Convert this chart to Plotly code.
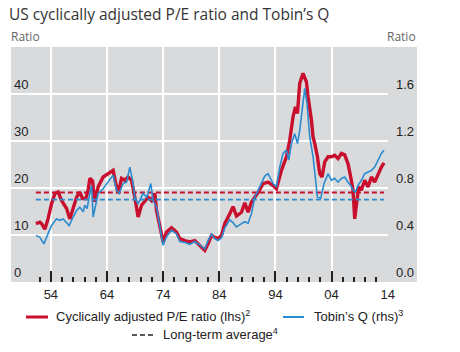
import plotly.graph_objects as go

# ---- data ----
pe_years = [1951.33, 1952.04, 1952.40, 1952.93, 1953.52, 1954.12, 1954.71, 1955.30, 1955.90, 1956.80,
            1957.38, 1957.97, 1958.58, 1959.16, 1959.64, 1960.23, 1960.64, 1960.94, 1961.42, 1961.83,
            1962.42, 1963.31, 1964.20, 1965.09, 1965.57, 1965.98, 1966.59, 1967.17, 1967.76, 1968.37,
            1968.95, 1969.54, 1970.15, 1970.73, 1971.32, 1971.93, 1972.52, 1972.82, 1973.41, 1973.99,
            1974.60, 1975.49, 1976.38, 1976.97, 1977.86, 1978.75, 1979.64, 1980.22, 1980.83, 1981.42,
            1982.00, 1982.61, 1983.20, 1983.78, 1984.39, 1984.98, 1985.87, 1986.45, 1987.06, 1987.95,
            1988.54, 1989.13, 1989.73, 1990.32, 1990.91, 1991.80, 1992.69, 1993.58, 1994.18, 1995.07,
            1995.96, 1996.55, 1997.14, 1997.56, 1997.92, 1998.33, 1998.92, 1999.52, 1999.81, 2000.41,
            2000.70, 2001.00, 2001.48, 2001.89, 2002.30, 2002.78, 2003.37, 2003.97, 2004.56, 2005.15,
            2005.75, 2006.34, 2006.93, 2007.41, 2007.82, 2008.12, 2008.43, 2008.83, 2009.31, 2009.90,
            2010.49, 2011.10, 2011.68, 2012.27, 2012.87, 2013.34]
pe_ratio = [12.4, 12.7, 12.3, 11.2, 13.5, 16.6, 18.8, 19.1, 17.3, 15.6,
            13.4, 15.9, 18.0, 19.1, 17.7, 17.7, 19.5, 22.0, 21.5, 17.0,
            20.2, 22.3, 23.0, 23.7, 20.9, 18.8, 22.0, 21.6, 22.3, 21.6,
            18.0, 13.8, 16.3, 17.3, 18.0, 17.3, 18.8, 15.2, 11.7, 8.5,
            10.6, 11.5, 10.6, 9.2, 8.8, 8.5, 8.8, 8.1, 7.4, 6.7,
            8.1, 9.9, 9.5, 9.2, 9.9, 12.4, 14.5, 16.0, 14.0, 14.8,
            16.8, 14.8, 17.0, 18.0, 19.0, 20.9, 21.2, 20.5, 19.8, 23.7,
            26.6, 30.1, 35.1, 37.2, 35.8, 42.2, 44.3, 42.5, 39.3, 34.4,
            30.8, 29.4, 26.6, 23.0, 22.3, 25.5, 26.6, 26.6, 26.9, 26.2,
            27.3, 27.0, 25.1, 22.3, 19.5, 13.4, 15.9, 20.2, 19.5, 21.6,
            20.2, 22.3, 21.2, 23.0, 24.4, 25.3]

q_years = [1951.33, 1952.04, 1952.75, 1953.52, 1954.12, 1955.01, 1955.60, 1956.19, 1956.80, 1957.26,
           1957.97, 1958.58, 1959.16, 1959.75, 1960.05, 1960.46, 1960.94, 1961.25, 1961.53, 1962.42,
           1963.31, 1964.20, 1965.09, 1965.70, 1966.16, 1966.87, 1967.48, 1968.06, 1968.55, 1968.95,
           1969.54, 1970.43, 1971.09, 1971.80, 1972.21, 1972.82, 1973.41, 1973.99, 1974.60, 1975.49,
           1976.38, 1976.97, 1977.86, 1978.75, 1979.64, 1980.22, 1980.83, 1981.42, 1982.00, 1982.61,
           1983.20, 1983.78, 1984.39, 1984.98, 1985.87, 1986.45, 1987.06, 1987.95, 1988.54, 1989.13,
           1989.73, 1990.32, 1990.91, 1991.80, 1992.10, 1992.69, 1993.58, 1994.18, 1994.77, 1995.36,
           1995.96, 1996.37, 1996.85, 1997.44, 1997.92, 1998.33, 1998.74, 1999.22, 1999.63, 2000.11,
           2000.70, 2001.12, 2001.48, 2002.07, 2002.66, 2003.37, 2003.97, 2004.56, 2005.15, 2005.75,
           2006.34, 2006.93, 2007.41, 2007.82, 2008.25, 2008.71, 2009.31, 2009.90, 2010.49, 2011.10,
           2011.68, 2012.27, 2012.87, 2013.34]
tobins_q = [0.396, 0.380, 0.324, 0.412, 0.480, 0.536, 0.524, 0.536, 0.508, 0.480,
            0.552, 0.608, 0.636, 0.596, 0.652, 0.624, 0.752, 0.820, 0.552, 0.752,
            0.792, 0.848, 0.908, 0.780, 0.752, 0.836, 0.848, 0.976, 0.864, 0.720,
            0.664, 0.752, 0.720, 0.836, 0.692, 0.636, 0.460, 0.312, 0.384, 0.440,
            0.408, 0.344, 0.336, 0.320, 0.344, 0.328, 0.304, 0.280, 0.352, 0.408,
            0.368, 0.352, 0.376, 0.460, 0.528, 0.504, 0.468, 0.496, 0.512, 0.500,
            0.580, 0.720, 0.780, 0.860, 0.900, 0.920, 0.836, 0.808, 0.976, 1.092,
            1.120, 1.036, 1.176, 1.260, 1.176, 1.288, 1.460, 1.644, 1.516, 1.232,
            1.064, 0.892, 0.720, 0.712, 0.836, 0.920, 0.864, 0.880, 0.848, 0.880,
            0.892, 0.848, 0.820, 0.780, 0.764, 0.820, 0.864, 0.920, 0.936, 0.948,
            0.976, 1.036, 1.092, 1.120]

avg_years = [1951.33, 2013.34]
pe_long_term_avg = 19.0
q_long_term_avg = 0.70

x_tick_vals = [1954, 1964, 1974, 1984, 1994, 2004, 2014]
x_tick_text = ["54", "64", "74", "84", "94", "04", "14"]
x_minor_vals = list(range(1952, 2015, 2))
yl_ticks = [0, 10, 20, 30, 40]
yr_ticks = [0.0, 0.4, 0.8, 1.2, 1.6]
yr_text = ["0.0", "0.4", "0.8", "1.2", "1.6"]

title_text = "US cyclically adjusted P/E ratio and Tobin’s Q"
pe_name = "Cyclically adjusted P/E ratio (lhs)<sup>2</sup>"
q_name = "Tobin’s Q (rhs)<sup>3</sup>"
avg_name = "Long-term average<sup>4</sup>"

RED = "#c8102e"
BLUE = "#2a8bd0"
GREY = "#d9dadc"
TXT = "#222222"
ARIAL = "Liberation Sans, Arial, sans-serif"
SEGOE = "Open Sans, Noto Sans, sans-serif"

# plot area in pixels
L, R, T, B = 11, 388, 47, 282
W, H = 460, 352


def px(xp):
    return (xp - L) / (R - L)


def py(yp):
    return (B - yp) / (B - T)


fig = go.Figure()
fig.add_trace(go.Scatter(x=avg_years, y=[pe_long_term_avg] * 2, mode="lines",
                         line=dict(color=RED, width=2, dash="5px,3px"), showlegend=False, hoverinfo="skip"))
fig.add_trace(go.Scatter(x=avg_years, y=[q_long_term_avg] * 2, mode="lines", yaxis="y2",
                         line=dict(color=BLUE, width=1.6, dash="5px,3px"), showlegend=False, hoverinfo="skip"))
fig.add_trace(go.Scatter(x=q_years, y=tobins_q, mode="lines", yaxis="y2", name=q_name,
                         line=dict(color=BLUE, width=1.6), showlegend=False))
fig.add_trace(go.Scatter(x=pe_years, y=pe_ratio, mode="lines", name=pe_name,
                         line=dict(color=RED, width=3.4), showlegend=False))

fig.update_layout(
    width=W, height=H, autosize=False,
    margin=dict(l=L, r=W - R, t=T, b=H - B, pad=0),
    paper_bgcolor="white", plot_bgcolor=GREY,
    title=dict(text=title_text, x=9 / W, xanchor="left", y=1 - 15 / H, yanchor="middle",
               font=dict(family=SEGOE, size=15.5, color="#333333")),
    xaxis=dict(range=[1946.9, 2014.05], tickmode="array", tickvals=x_tick_vals, ticktext=x_tick_text,
               ticks="inside", ticklen=11, tickwidth=1.5, tickcolor=TXT, ticklabelstandoff=3,
               minor=dict(tickmode="array", tickvals=x_minor_vals, ticks="inside", ticklen=5,
                          tickwidth=1.5, tickcolor=TXT, showgrid=False),
               showgrid=True, gridcolor="white", gridwidth=1.5, zeroline=False, showline=False,
               tickfont=dict(family=ARIAL, size=13, color=TXT)),
    yaxis=dict(range=[0, 49.9], tickmode="array", tickvals=yl_ticks, ticks="",
               ticklabelposition="inside top", showgrid=True, gridcolor="white", gridwidth=1.5,
               zeroline=False, showline=False, tickfont=dict(family=ARIAL, size=13, color=TXT)),
    yaxis2=dict(range=[0, 1.996], overlaying="y", side="right", tickmode="array", tickvals=yr_ticks,
                ticktext=yr_text, ticks="", ticklabelposition="outside top", ticklabelstandoff=7,
                showgrid=False, zeroline=False, showline=False,
                tickfont=dict(family=ARIAL, size=13, color=TXT)),
    shapes=[
        dict(type="rect", xref="paper", yref="paper", x0=1, x1=px(417), y0=0, y1=1,
             fillcolor=GREY, line=dict(width=0), layer="below"),
        dict(type="line", xref="paper", yref="paper", x0=px(26), x1=px(48), y0=py(317), y1=py(317),
             line=dict(color=RED, width=3)),
        dict(type="line", xref="paper", yref="paper", x0=px(283), x1=px(304), y0=py(317), y1=py(317),
             line=dict(color=BLUE, width=2)),
        dict(type="line", xref="paper", yref="paper", x0=px(132), x1=px(156), y0=py(335), y1=py(335),
             line=dict(color=TXT, width=1.5, dash="5px,3px")),
    ],
    annotations=[
        dict(text="Ratio", xref="paper", yref="paper", x=px(9), y=py(37), xanchor="left", yanchor="middle",
             showarrow=False, font=dict(family=SEGOE, size=12, color="#666666")),
        dict(text="Ratio", xref="paper", yref="paper", x=px(418), y=py(37), xanchor="right", yanchor="middle",
             showarrow=False, font=dict(family=SEGOE, size=12, color="#666666")),
        dict(text=pe_name, xref="paper", yref="paper", x=px(54), y=py(316), xanchor="left", yanchor="middle",
             showarrow=False, font=dict(family=ARIAL, size=13, color=TXT)),
        dict(text=q_name, xref="paper", yref="paper", x=px(312), y=py(316), xanchor="left", yanchor="middle",
             showarrow=False, font=dict(family=ARIAL, size=13, color=TXT)),
        dict(text=avg_name, xref="paper", yref="paper", x=px(161), y=py(334), xanchor="left", yanchor="middle",
             showarrow=False, font=dict(family=ARIAL, size=13, color=TXT)),
    ],
)

fig.write_html("out.html")
